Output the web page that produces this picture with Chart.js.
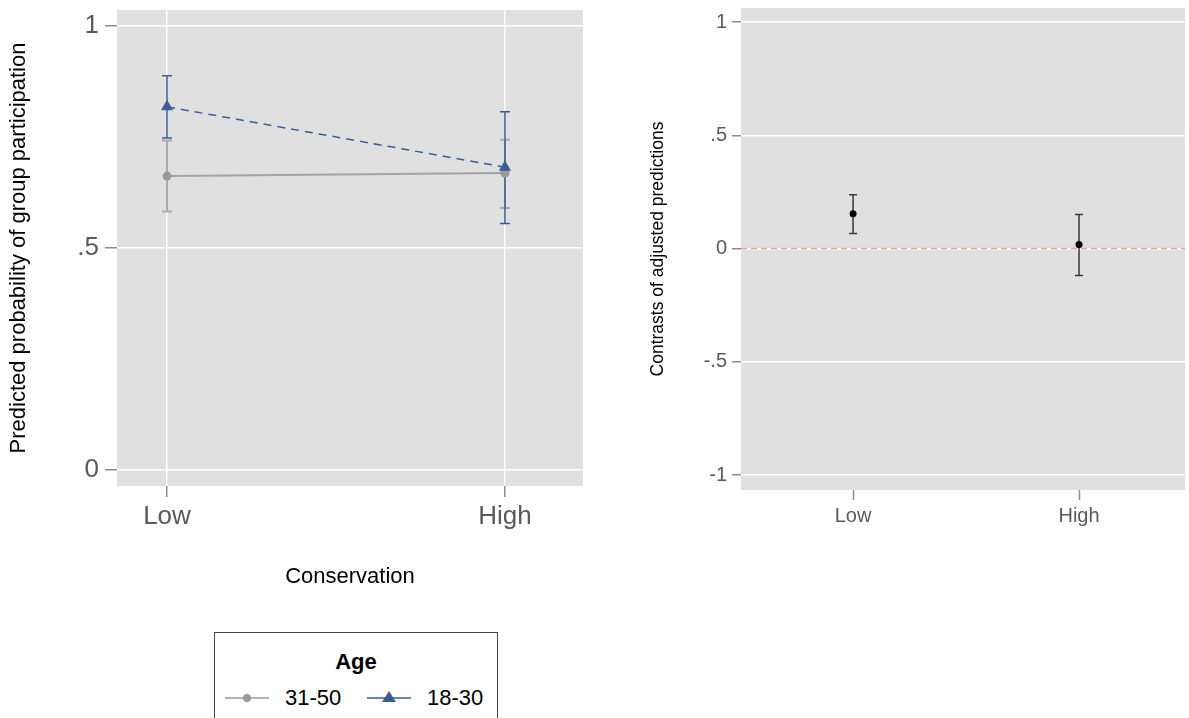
<!DOCTYPE html>
<html>
<head>
<meta charset="utf-8">
<script src="https://cdn.jsdelivr.net/npm/chart.js@4.4.0/dist/chart.umd.min.js"></script>
<style>
    body {
        margin: 0;
        width: 1189px;
        height: 718px;
        overflow: hidden;
        background: #ffffff;
        position: relative;
        font-family: "Liberation Sans", Arial, sans-serif;
    }
    #wrapIzq { position: absolute; left: 0; top: 0; }
    #wrapDer { position: absolute; left: 600px; top: 0; }
    #leyenda {
        position: absolute;
        left: 214px;
        top: 632px;
        width: 284px;
        height: 120px;
        border: 1.5px solid #444;
        box-sizing: border-box;
    }
    #leyenda .titulo {
        position: absolute;
        left: 0; right: 0; top: 16px;
        text-align: center;
        font-weight: bold;
        font-size: 22px;
        line-height: 26px;
        color: #000;
    }
    #leyenda .item {
        position: absolute;
        top: 52px;
        font-size: 22px;
        line-height: 26px;
        color: #000;
    }
    #leyenda svg { position: absolute; top: 55px; }
</style>
</head>
<body>
<div id="wrapIzq"><canvas id="graficaPred" width="600" height="610"></canvas></div>
<div id="wrapDer"><canvas id="graficaContraste" width="589" height="560"></canvas></div>

<div id="leyenda">
    <div class="titulo">Age</div>
    <svg style="left:10px" width="44" height="20">
        <line x1="0" y1="10" x2="44" y2="10" stroke="#9a9a9a" stroke-width="1.5"/>
        <circle cx="22" cy="10" r="4" fill="#9a9a9a"/>
    </svg>
    <span class="item" style="left:70px">31-50</span>
    <svg style="left:152px" width="44" height="20">
        <line x1="0" y1="10" x2="44" y2="10" stroke="#3a5d96" stroke-width="1.5"/>
        <polygon points="22,3 29,14 15,14" fill="#3a5d96"/>
    </svg>
    <span class="item" style="left:212px">18-30</span>
</div>

<script>
// Datos
const conservacion = ['Low', 'High'];

const edad3150 = [0.662, 0.669];
const edad3150Inf = [0.582, 0.590];
const edad3150Sup = [0.742, 0.744];

const edad1830 = [0.818, 0.682];
const edad1830Inf = [0.748, 0.555];
const edad1830Sup = [0.888, 0.807];

const contraste = [0.154, 0.018];
const contrasteInf = [0.066, -0.119];
const contrasteSup = [0.238, 0.150];

const ticksPred = [0, 0.5, 1];
const ticksContraste = [-1, -0.5, 0, 0.5, 1];
const lineaReferencia = 0;

const FUENTE = '"Liberation Sans", Arial, sans-serif';
Chart.defaults.font.family = FUENTE;

// formato tipo Stata: .5 en vez de 0.5
function formatoTick(v) {
    return String(v).replace(/^(-?)0\./, '$1.');
}

function puntos(valores) {
    return valores.map((v, i) => ({ x: i, y: v }));
}

// Quita el margen extra que Chart.js reserva para las etiquetas
function sinPadding(s) {
    s.paddingTop = 0;
    s.paddingBottom = 0;
    s.paddingLeft = 0;
    s.paddingRight = 0;
}

// Fondo gris del área de gráfica
const pluginFondo = {
    id: 'fondo',
    beforeDraw(chart) {
        const a = chart.chartArea;
        const ctx = chart.ctx;
        ctx.save();
        ctx.fillStyle = '#e0e0e0';
        ctx.fillRect(a.left, a.top, a.right - a.left, a.bottom - a.top);
        ctx.restore();
    }
};

// Barras de error (intervalos de confianza)
const pluginBarrasError = {
    id: 'barrasError',
    beforeDatasetsDraw(chart) {
        const ctx = chart.ctx;
        const xs = chart.scales.x;
        const ys = chart.scales.y;
        chart.data.datasets.slice().reverse().forEach(ds => {
            if (!ds.errInf) return;
            ctx.save();
            ctx.strokeStyle = ds.errColor;
            ctx.lineWidth = ds.errAncho;
            const cap = ds.errCap;
            ds.data.forEach((p, i) => {
                const x = xs.getPixelForValue(p.x);
                const y1 = ys.getPixelForValue(ds.errInf[i]);
                const y2 = ys.getPixelForValue(ds.errSup[i]);
                ctx.beginPath();
                ctx.moveTo(x, y1); ctx.lineTo(x, y2);
                ctx.moveTo(x - cap, y1); ctx.lineTo(x + cap, y1);
                ctx.moveTo(x - cap, y2); ctx.lineTo(x + cap, y2);
                ctx.stroke();
            });
            ctx.restore();
        });
    }
};

// Línea de referencia roja punteada en y = 0
const pluginReferencia = {
    id: 'referencia',
    beforeDatasetsDraw(chart) {
        const a = chart.chartArea;
        const y = chart.scales.y.getPixelForValue(lineaReferencia);
        const ctx = chart.ctx;
        ctx.save();
        ctx.strokeStyle = '#e8a39a';
        ctx.lineWidth = 1.5;
        ctx.setLineDash([6, 4]);
        ctx.beginPath();
        ctx.moveTo(a.left, y);
        ctx.lineTo(a.right, y);
        ctx.stroke();
        ctx.restore();
    }
};

function initGraficaPred() {
    const ctx = document.getElementById('graficaPred').getContext('2d');
    new Chart(ctx, {
        type: 'line',
        data: {
            datasets: [{
                label: '18-30',
                data: puntos(edad1830),
                borderColor: '#3a5d96',
                backgroundColor: '#3a5d96',
                borderWidth: 1.5,
                borderDash: [8, 6],
                pointStyle: 'triangle',
                pointRadius: 7,
                pointBorderWidth: 0,
                errInf: edad1830Inf,
                errSup: edad1830Sup,
                errColor: '#3a5d96',
                errAncho: 1.5,
                errCap: 5
            }, {
                label: '31-50',
                data: puntos(edad3150),
                borderColor: '#a3a3a3',
                backgroundColor: '#9a9a9a',
                borderWidth: 2,
                pointStyle: 'circle',
                pointRadius: 4.5,
                pointBorderWidth: 0,
                errInf: edad3150Inf,
                errSup: edad3150Sup,
                errColor: '#ababab',
                errAncho: 2,
                errCap: 5
            }]
        },
        options: {
            responsive: false,
            animation: false,
            devicePixelRatio: 1,
            layout: { padding: { top: 10, right: 17, left: 0, bottom: 0 } },
            plugins: { legend: { display: false }, tooltip: { enabled: false } },
            scales: {
                x: {
                    type: 'linear',
                    min: -0.148,
                    max: 1.231,
                    afterBuildTicks: s => { s.ticks = conservacion.map((c, i) => ({ value: i })); },
                    afterFit: s => { s.height = 124; sinPadding(s); },
                    ticks: {
                        callback: v => conservacion[v],
                        color: '#5a5a5a',
                        font: { size: 26 },
                        padding: 4,
                        maxRotation: 0
                    },
                    grid: { color: '#ffffff', lineWidth: 1.5, tickLength: 11, tickColor: '#8c8c8c', tickWidth: 1.5 },
                    border: { display: false },
                    title: {
                        display: true,
                        text: 'Conservation',
                        color: '#000',
                        font: { size: 22 },
                        padding: { top: 0, bottom: 20 }
                    }
                },
                y: {
                    min: -0.036,
                    max: 1.036,
                    afterBuildTicks: s => { s.ticks = ticksPred.map(v => ({ value: v })); },
                    afterFit: s => { s.width = 117; sinPadding(s); },
                    ticks: {
                        callback: v => formatoTick(v),
                        color: '#5a5a5a',
                        font: { size: 26 },
                        padding: 6
                    },
                    grid: { color: '#ffffff', lineWidth: 1.5, tickLength: 12, tickColor: '#8c8c8c', tickWidth: 1.5 },
                    border: { display: false },
                    title: {
                        display: true,
                        text: 'Predicted probability of group participation',
                        color: '#000',
                        font: { size: 22 },
                        padding: { top: 6, bottom: 0 }
                    }
                }
            }
        },
        plugins: [pluginFondo, pluginBarrasError]
    });
}

function initGraficaContraste() {
    const ctx = document.getElementById('graficaContraste').getContext('2d');
    new Chart(ctx, {
        type: 'scatter',
        data: {
            datasets: [{
                label: 'Contraste',
                data: puntos(contraste),
                borderColor: '#000',
                backgroundColor: '#000',
                pointStyle: 'circle',
                pointRadius: 3.5,
                pointBorderWidth: 0,
                errInf: contrasteInf,
                errSup: contrasteSup,
                errColor: '#3a3a3a',
                errAncho: 1.5,
                errCap: 4
            }]
        },
        options: {
            responsive: false,
            animation: false,
            devicePixelRatio: 1,
            layout: { padding: { top: 8, right: 0, left: 0, bottom: 0 } },
            plugins: { legend: { display: false }, tooltip: { enabled: false } },
            scales: {
                x: {
                    type: 'linear',
                    min: -0.496,
                    max: 1.469,
                    afterBuildTicks: s => { s.ticks = conservacion.map((c, i) => ({ value: i })); },
                    afterFit: s => { s.height = 70; sinPadding(s); },
                    ticks: {
                        callback: v => conservacion[v],
                        color: '#5a5a5a',
                        font: { size: 20 },
                        padding: 4,
                        maxRotation: 0
                    },
                    grid: { drawOnChartArea: false, tickLength: 10, tickColor: '#8c8c8c', tickWidth: 1.5 },
                    border: { display: false }
                },
                y: {
                    min: -1.066,
                    max: 1.062,
                    afterBuildTicks: s => { s.ticks = ticksContraste.map(v => ({ value: v })); },
                    afterFit: s => { s.width = 141; sinPadding(s); },
                    ticks: {
                        callback: v => formatoTick(v),
                        color: '#5a5a5a',
                        font: { size: 20 },
                        padding: 5
                    },
                    grid: { color: '#ffffff', lineWidth: 1.5, tickLength: 9, tickColor: '#8c8c8c', tickWidth: 1.5 },
                    border: { display: false },
                    title: {
                        display: true,
                        text: 'Contrasts of adjusted predictions',
                        color: '#000',
                        font: { size: 17.5 },
                        padding: { top: 48, bottom: 0 }
                    }
                }
            }
        },
        plugins: [pluginFondo, pluginReferencia, pluginBarrasError]
    });
}

document.addEventListener('DOMContentLoaded', function () {
    initGraficaPred();
    initGraficaContraste();
});
</script>
</body>
</html>
